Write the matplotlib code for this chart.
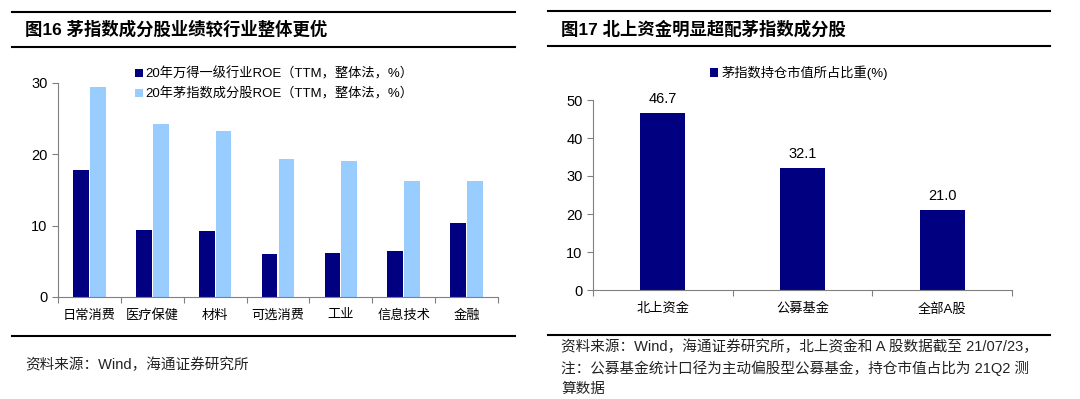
import numpy as np
import matplotlib.pyplot as plt
from matplotlib.lines import Line2D

plt.rcParams['font.family'] = ['Liberation Sans', 'Noto Sans CJK SC', 'DejaVu Sans']

# left chart: ROE by industry
industries = ["日常消费", "医疗保健", "材料", "可选消费", "工业", "信息技术", "金融"]
roe_wind = [17.8, 9.4, 9.2, 6.0, 6.1, 6.5, 10.4]
roe_mao = [29.4, 24.2, 23.3, 19.3, 19.0, 16.2, 16.2]

# right chart: holding share
holders = ["北上资金", "公募基金", "全部A股"]
share = [46.7, 32.1, 21.0]

navy = "#000080"
light = "#99CCFF"
grey = "#808080"

W, H = 1080, 399
fig = plt.figure(figsize=(W / 100, H / 100), dpi=100)


def fx(px):
    return px / W


def fy(py):
    return 1 - py / H


# header / footer lines and titles
for x0, x1, ys in [(12, 515, (12, 47, 336)), (548, 1050, (11, 46, 335))]:
    for y in ys:
        fig.add_artist(Line2D([fx(x0), fx(x1)], [fy(y), fy(y)], color="black", lw=1.5))

fig.text(fx(25), fy(29), "图16 茅指数成分股业绩较行业整体更优", fontsize=12.5, fontweight="bold", va="center")
fig.text(fx(561), fy(29), "图17 北上资金明显超配茅指数成分股", fontsize=12.5, fontweight="bold", va="center")
fig.text(fx(25), fy(365), "资料来源：Wind，海通证券研究所", fontsize=10.5, va="center", color="#222222")
notes = ["资料来源：Wind，海通证券研究所，北上资金和 A 股数据截至 21/07/23，",
         "注：公募基金统计口径为主动偏股型公募基金，持仓市值占比为 21Q2 测",
         "算数据"]
for i, line in enumerate(notes):
    fig.text(fx(561), fy(347 + 21 * i), line, fontsize=10.5, va="center", color="#222222")


def style_axis(ax, n):
    for s in ["top", "right"]:
        ax.spines[s].set_visible(False)
    for s in ["left", "bottom"]:
        ax.spines[s].set_color(grey)
    ax.set_xlim(-0.5, n - 0.5)
    ax.set_xticks(np.arange(n + 1) - 0.5, minor=False)
    ax.set_xticklabels([])
    ax.set_xticks(np.arange(n), minor=True)
    ax.tick_params(axis="x", which="major", length=4, color=grey)
    ax.tick_params(axis="x", which="minor", length=0, labelsize=9.5, pad=9)
    ax.tick_params(axis="y", length=4, color=grey, labelsize=10.5)


# left chart
ax1 = fig.add_axes([fx(58), fy(297), fx(498 - 58), fy(83) - fy(297)])
x = np.arange(len(industries))
w = 0.25
ax1.bar(x - w / 2 - 0.01, roe_wind, w, color=navy, label="20年万得一级行业ROE（TTM，整体法，%）")
ax1.bar(x + w / 2 + 0.01, roe_mao, w, color=light, label="20年茅指数成分股ROE（TTM，整体法，%）")
style_axis(ax1, len(industries))
ax1.set_xticklabels(industries, minor=True)
ax1.set_ylim(0, 30)
ax1.set_yticks([0, 10, 20, 30])
ax1.legend(loc="center left", bbox_to_anchor=(fx(128), fy(84)), bbox_transform=fig.transFigure,
           frameon=False, fontsize=9.5, handlelength=0.6, handleheight=0.6, handletextpad=0.2,
           labelspacing=0.5, borderpad=0)

# right chart
ax2 = fig.add_axes([fx(593), fy(290), fx(1012 - 593), fy(100) - fy(290)])
x2 = np.arange(len(holders))
bars = ax2.bar(x2, share, 0.32, color=navy, label="茅指数持仓市值所占比重(%)")
style_axis(ax2, len(holders))
ax2.set_xticklabels(holders, minor=True)
ax2.set_ylim(0, 50)
ax2.set_yticks([0, 10, 20, 30, 40, 50])
for b, v in zip(bars, share):
    ax2.annotate(f"{v:.1f}", (b.get_x() + b.get_width() / 2, v), xytext=(0, 5),
                 textcoords="offset points", ha="center", va="bottom", fontsize=10.5)
ax2.legend(loc="center left", bbox_to_anchor=(fx(703), fy(73)), bbox_transform=fig.transFigure,
           frameon=False, fontsize=9.5, handlelength=0.6, handleheight=0.6, handletextpad=0.3,
           borderpad=0)

fig.savefig("out.png", dpi=100)
